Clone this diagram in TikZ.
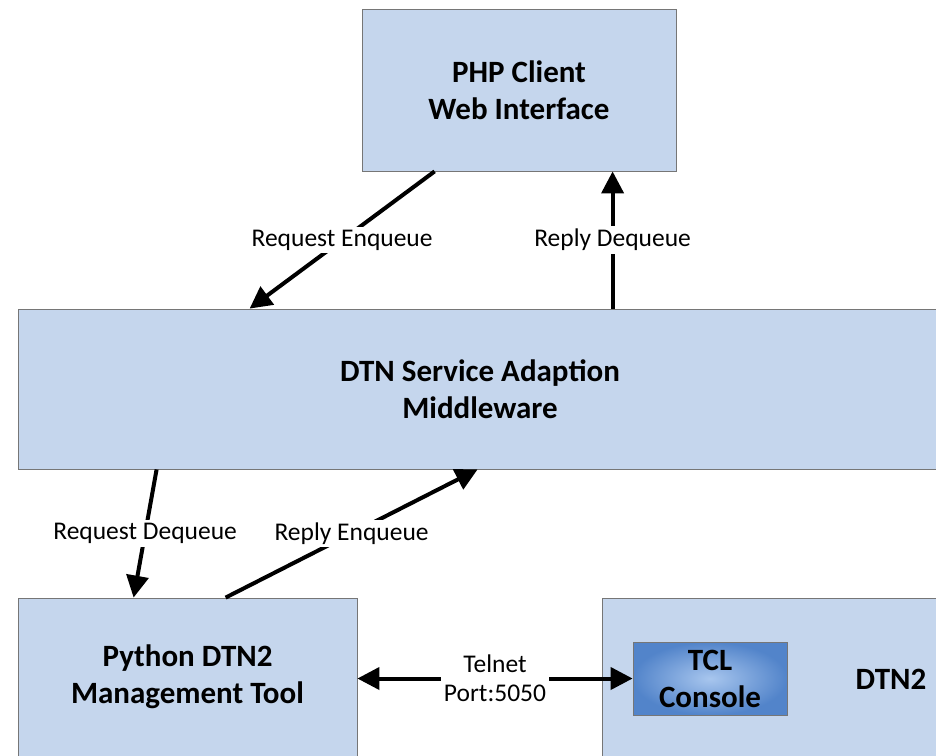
\documentclass[tikz,border=0pt]{standalone}
\usepackage{fontspec}
\setmainfont{Carlito}
\usetikzlibrary{arrows.meta}

\definecolor{boxblue}{RGB}{197,214,237}
\definecolor{boxline}{RGB}{118,118,118}
\definecolor{tcldark}{RGB}{82,132,202}
\definecolor{tcllight}{RGB}{168,198,238}

\tikzset{
  block/.style={draw=boxline, line width=0.8pt, fill=boxblue, align=center,
    font=\fontsize{31}{37}\selectfont\bfseries},
  flow/.style={line width=4pt, -{Triangle[length=22pt,width=22pt]}},
  tag/.style={fill=white, inner sep=3pt, align=center,
    font=\fontsize{25.5}{29}\selectfont},
}

\begin{document}
\begin{tikzpicture}[x=1pt, y=-1pt]
  \useasboundingbox (0,0) rectangle (936,755);
  \clip (0,0) rectangle (936,755);
  % boxes
  \node[block, minimum width=314pt, minimum height=162pt] (php) at (519,90) {PHP Client\\Web Interface};
  \node[block, minimum width=924pt, minimum height=160pt] (middleware) at (480,389) {DTN Service Adaption\\Middleware};
  \node[block, minimum width=339pt, minimum height=158pt] (python) at (187.5,677) {Python DTN2\\Management Tool};
  \node[block, minimum width=400pt, minimum height=158pt] (dtn) at (802,677) {};
  \node[font=\fontsize{31}{37}\selectfont\bfseries] (dtnname) at (891,679) {DTN2};
  \node[block, inner color=tcllight, outer color=tcldark, minimum width=154pt, minimum height=73pt] (tcl) at (710,678.5) {TCL\\Console};
  % queues between client and middleware
  \coordinate (reqin) at ([xshift=73pt]php.south west);
  \coordinate (reqout) at ([xshift=232pt]middleware.north west);
  \coordinate (repin) at ([xshift=595pt]middleware.north west);
  \coordinate (repout) at ([xshift=251pt]php.south west);
  \draw[flow] (reqin) -- (reqout) node[midway, tag] {Request Enqueue};
  \draw[flow] (repin) -- (repout) node[midway, tag] {Reply Dequeue};
  % queues between middleware and tool
  \coordinate (deqin) at ([xshift=139pt]middleware.south west);
  \coordinate (deqout) at ([xshift=116pt]python.north west);
  \coordinate (enqin) at ([xshift=208pt]python.north west);
  \coordinate (enqout) at ([xshift=460pt]middleware.south west);
  \draw[flow] (deqin) -- (deqout) node[midway, tag] {Request Dequeue};
  \draw[flow] (enqin) -- (enqout) node[midway, tag] {Reply Enqueue};
  % telnet link
  \draw[flow, {Triangle[length=22pt,width=22pt]}-{Triangle[length=22pt,width=22pt]}] (python.east |- tcl.west) -- (tcl.west) node[midway, tag] {Telnet\\Port:5050};
\end{tikzpicture}
\end{document}
